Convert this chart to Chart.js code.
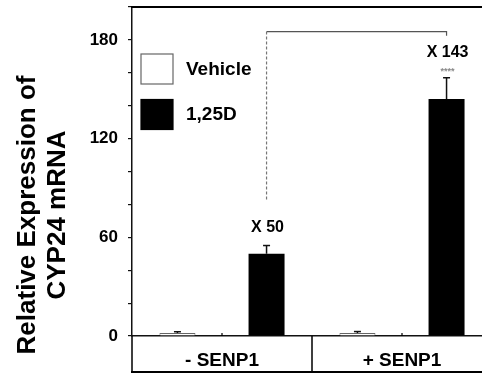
<!DOCTYPE html>
<html>
<head>
<meta charset="utf-8">
<script src="https://cdn.jsdelivr.net/npm/chart.js@4.4.0/dist/chart.umd.min.js"></script>
<style>
html, body { margin: 0; padding: 0; background: #fff; overflow: hidden; }
canvas { display: block; }
</style>
</head>
<body>
<canvas id="chart" width="500" height="375"></canvas>
<script>
// values
const groups = ['- SENP1', '+ SENP1'];
const seriesNames = ['Vehicle', '1,25D'];
const vehicle = [1.8, 1.8];
const vehicleErr = [0.8, 0.9];
const treated = [50, 144];
const treatedErr = [5, 13];
const foldLabels = ['X 50', 'X 143'];
const starLabels = ['', '****'];
const labelledTicks = [0, 60, 120, 180];
const bracket = { low: 83, top: 185, rightEnd: 182.5 };

const FONT = "'Liberation Sans', Arial, sans-serif";

function line(ctx, x1, y1, x2, y2) {
    ctx.beginPath();
    ctx.moveTo(x1, y1);
    ctx.lineTo(x2, y2);
    ctx.stroke();
}

const extras = {
    id: 'extras',
    afterDatasetsDraw(chart) {
        const ctx = chart.ctx;
        const y = chart.scales.y;
        const errs = [vehicleErr, treatedErr];
        ctx.save();
        ctx.strokeStyle = '#111';
        ctx.lineWidth = 1.5;
        chart.data.datasets.forEach((ds, di) => {
            chart.getDatasetMeta(di).data.forEach((bar, i) => {
                const yTop = y.getPixelForValue(ds.data[i] + errs[di][i]);
                line(ctx, bar.x, bar.y, bar.x, yTop);
                line(ctx, bar.x - 3.5, yTop, bar.x + 3.5, yTop);
            });
        });
        ctx.restore();
    },
    afterDraw(chart) {
        const ctx = chart.ctx;
        const area = chart.chartArea;
        const x = chart.scales.x;
        const y = chart.scales.y;
        const boxBottom = 371;
        ctx.save();

        // frame: top line, box under the axis
        ctx.fillStyle = '#000';
        ctx.fillRect(area.left - 1, area.top - 1, 400, 2);
        ctx.fillRect(area.left - 0.75, area.bottom, 1.5, boxBottom - area.bottom + 1);
        ctx.fillRect(area.left - 1, boxBottom, 400, 2);
        const step = (x.right - x.left) / groups.length;
        for (let i = 1; i <= groups.length; i++) {
            ctx.fillRect(x.left + i * step - 0.75, area.bottom, 1.5, boxBottom - area.bottom);
        }
        groups.forEach((g, i) => {
            const cx = x.getPixelForValue(i);
            ctx.fillRect(cx - 0.6, area.bottom - 3, 1.2, 3);
        });

        // bracket between the treated bars
        const meta = chart.getDatasetMeta(1).data;
        const xa = meta[0].x, xb = meta[1].x;
        ctx.strokeStyle = '#777';
        ctx.lineWidth = 1.2;
        ctx.setLineDash([3, 2]);
        line(ctx, xa, y.getPixelForValue(bracket.low), xa, y.getPixelForValue(bracket.top));
        ctx.setLineDash([]);
        ctx.strokeStyle = '#555';
        ctx.beginPath();
        ctx.moveTo(xa, y.getPixelForValue(bracket.top));
        ctx.lineTo(xb, y.getPixelForValue(bracket.top));
        ctx.lineTo(xb, y.getPixelForValue(bracket.rightEnd));
        ctx.stroke();

        // fold-change labels
        ctx.textAlign = 'center';
        ctx.textBaseline = 'middle';
        meta.forEach((bar, i) => {
            const yTop = y.getPixelForValue(treated[i] + treatedErr[i]);
            ctx.fillStyle = '#000';
            ctx.font = 'bold 16px ' + FONT;
            ctx.fillText(foldLabels[i], bar.x + 1, yTop - (starLabels[i] ? 25 : 18));
            if (starLabels[i]) {
                ctx.fillStyle = '#888';
                ctx.font = 'bold 9px ' + FONT;
                ctx.fillText(starLabels[i], bar.x + 1, yTop - 6);
            }
        });

        // legend
        chart.data.datasets.forEach((d, i) => {
            const bt = 54 + i * 45.5;
            ctx.fillStyle = d.backgroundColor;
            ctx.fillRect(141, bt, 32, 30);
            ctx.strokeStyle = d.borderColor;
            ctx.lineWidth = 1.2;
            ctx.strokeRect(141, bt, 32, 30);
            ctx.fillStyle = '#000';
            ctx.font = 'bold 19px ' + FONT;
            ctx.textAlign = 'left';
            ctx.textBaseline = 'middle';
            ctx.fillText(d.label, 186, bt + 15.5);
        });

        // y-axis title
        ctx.fillStyle = '#000';
        ctx.font = 'bold 26px ' + FONT;
        ctx.textAlign = 'center';
        ctx.textBaseline = 'alphabetic';
        [['Relative Expression of', 34.5], ['CYP24 mRNA', 64.5]].forEach(([t, bx]) => {
            ctx.save();
            ctx.translate(bx, 215);
            ctx.rotate(-Math.PI / 2);
            ctx.fillText(t, 0, 0);
            ctx.restore();
        });
        ctx.restore();
    }
};

new Chart(document.getElementById('chart'), {
    type: 'bar',
    data: {
        labels: groups,
        datasets: [{
            label: seriesNames[0],
            data: vehicle,
            backgroundColor: '#ffffff',
            borderColor: '#666666',
            borderWidth: 1
        }, {
            label: seriesNames[1],
            data: treated,
            backgroundColor: '#000000',
            borderColor: '#000000',
            borderWidth: 0
        }]
    },
    options: {
        responsive: false,
        animation: false,
        categoryPercentage: 0.99,
        barPercentage: 0.404,
        layout: { padding: { top: 7, right: 8, left: 0, bottom: 0 } },
        plugins: {
            legend: { display: false },
            tooltip: { enabled: false }
        },
        scales: {
            x: {
                grid: { display: false },
                border: { display: true, color: '#111', width: 1.5 },
                ticks: {
                    color: '#000',
                    padding: 5,
                    font: { family: FONT, size: 19, weight: 'bold' }
                },
                afterFit: s => { s.height = 39; s.paddingLeft = 0; s.paddingRight = 0; }
            },
            xTop: {
                type: 'category',
                position: 'top',
                labels: groups,
                grid: { display: false },
                ticks: { display: false },
                border: { display: true, color: '#000', width: 2 },
                afterFit: s => { s.height = 0; s.paddingLeft = 0; s.paddingRight = 0; }
            },
            y: {
                min: 0,
                max: 200,
                ticks: {
                    stepSize: 20,
                    color: '#000',
                    padding: 10,
                    font: { family: FONT, size: 17, weight: 'bold' },
                    callback: v => labelledTicks.includes(v) ? v : ''
                },
                grid: { drawOnChartArea: false, drawTicks: true, tickLength: 4, color: '#111', lineWidth: 1.2 },
                border: { color: '#111', width: 1.5 },
                afterFit: s => { s.width = 132; s.paddingTop = 0; s.paddingBottom = 0; }
            }
        }
    },
    plugins: [extras]
});
</script>
</body>
</html>
